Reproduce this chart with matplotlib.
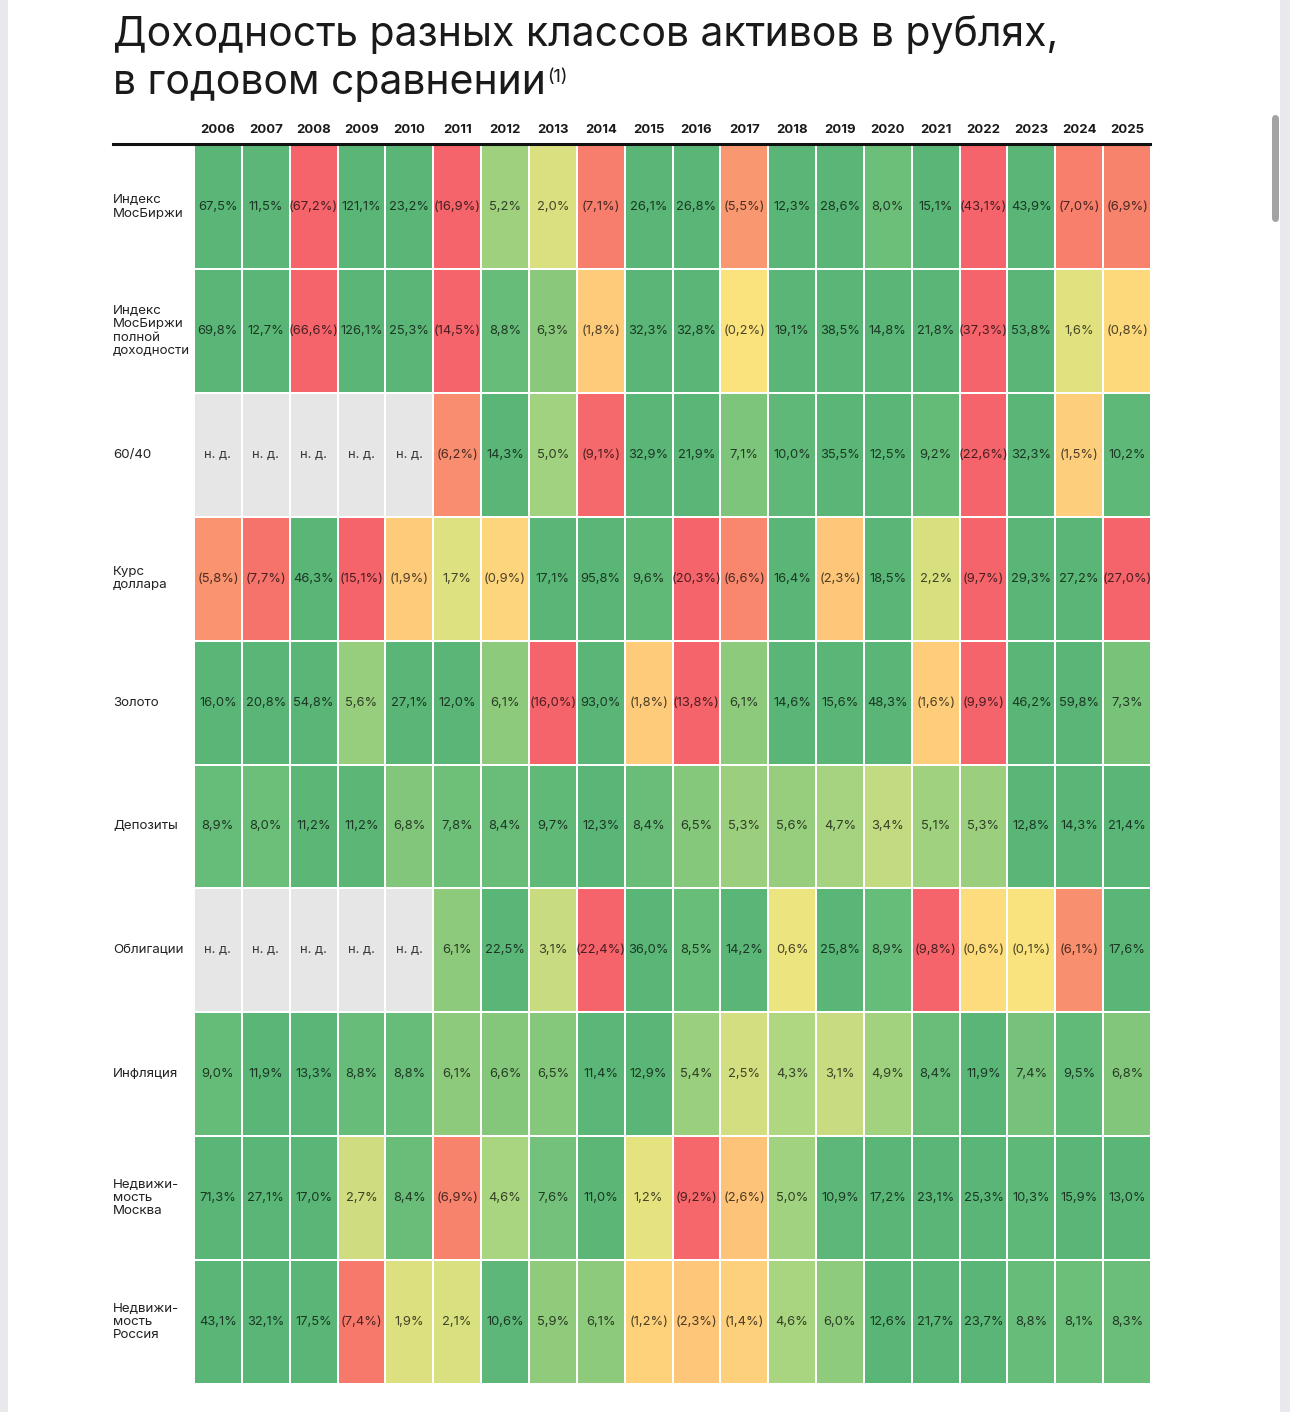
import numpy as np
import matplotlib
matplotlib.use('Agg')
import matplotlib.pyplot as plt
import matplotlib.colors as mcolors
import matplotlib.transforms as mtransforms
from matplotlib.lines import Line2D
from matplotlib.patches import Rectangle, FancyBboxPatch

plt.rcParams['font.family'] = ['Inter', 'DejaVu Sans']

years = [str(y) for y in range(2006, 2026)]

row_labels = ['Индекс\nМосБиржи',
              'Индекс\nМосБиржи\nполной\nдоходности',
              '60/40',
              'Курс\nдоллара',
              'Золото',
              'Депозиты',
              'Облигации',
              'Инфляция',
              'Недвижи-\nмость\nМосква',
              'Недвижи-\nмость\nРоссия']

moex = [67.5, 11.5, -67.2, 121.1, 23.2, -16.9, 5.2, 2.0, -7.1, 26.1,
        26.8, -5.5, 12.3, 28.6, 8.0, 15.1, -43.1, 43.9, -7.0, -6.9]
moex_tr = [69.8, 12.7, -66.6, 126.1, 25.3, -14.5, 8.8, 6.3, -1.8, 32.3,
           32.8, -0.2, 19.1, 38.5, 14.8, 21.8, -37.3, 53.8, 1.6, -0.8]
mix_60_40 = [None, None, None, None, None, -6.2, 14.3, 5.0, -9.1, 32.9,
             21.9, 7.1, 10.0, 35.5, 12.5, 9.2, -22.6, 32.3, -1.5, 10.2]
usd = [-5.8, -7.7, 46.3, -15.1, -1.9, 1.7, -0.9, 17.1, 95.8, 9.6,
       -20.3, -6.6, 16.4, -2.3, 18.5, 2.2, -9.7, 29.3, 27.2, -27.0]
gold = [16.0, 20.8, 54.8, 5.6, 27.1, 12.0, 6.1, -16.0, 93.0, -1.8,
        -13.8, 6.1, 14.6, 15.6, 48.3, -1.6, -9.9, 46.2, 59.8, 7.3]
deposits = [8.9, 8.0, 11.2, 11.2, 6.8, 7.8, 8.4, 9.7, 12.3, 8.4,
            6.5, 5.3, 5.6, 4.7, 3.4, 5.1, 5.3, 12.8, 14.3, 21.4]
bonds = [None, None, None, None, None, 6.1, 22.5, 3.1, -22.4, 36.0,
         8.5, 14.2, 0.6, 25.8, 8.9, -9.8, -0.6, -0.1, -6.1, 17.6]
inflation = [9.0, 11.9, 13.3, 8.8, 8.8, 6.1, 6.6, 6.5, 11.4, 12.9,
             5.4, 2.5, 4.3, 3.1, 4.9, 8.4, 11.9, 7.4, 9.5, 6.8]
realty_msk = [71.3, 27.1, 17.0, 2.7, 8.4, -6.9, 4.6, 7.6, 11.0, 1.2,
              -9.2, -2.6, 5.0, 10.9, 17.2, 23.1, 25.3, 10.3, 15.9, 13.0]
realty_rus = [43.1, 32.1, 17.5, -7.4, 1.9, 2.1, 10.6, 5.9, 6.1, -1.2,
              -2.3, -1.4, 4.6, 6.0, 12.6, 21.7, 23.7, 8.8, 8.1, 8.3]

rows = [moex, moex_tr, mix_60_40, usd, gold, deposits, bonds, inflation,
        realty_msk, realty_rus]
vals = np.array([[np.nan if v is None else v for v in r] for r in rows])
data = np.ma.masked_invalid(vals)

# цветовая шкала: красный -> оранжевый -> жёлтый -> зелёный
VMIN, VMAX = -10, 12
anchors = [(-10, '#f5636b'), (-8, '#f66e6a'), (-6.5, '#f88a6e'),
           (-2.5, '#fdc478'), (-1, '#fdd47c'), (-0.3, '#fde27d'),
           (0.5, '#ece47f'), (1.5, '#e2e27f'), (3, '#cadc80'),
           (4.5, '#abd580'), (6, '#8fcb7c'), (8, '#6cbf79'),
           (10, '#5fb878'), (12, '#5ab677')]
cmap = mcolors.LinearSegmentedColormap.from_list(
    'ret', [((v - VMIN) / (VMAX - VMIN), c) for v, c in anchors])
cmap.set_bad('#e6e6e6')
norm = mcolors.Normalize(vmin=VMIN, vmax=VMAX, clip=True)

W, H = 1290, 1412
fig = plt.figure(figsize=(W / 100, H / 100), dpi=100)
fig.patch.set_facecolor('white')

# сетка
gx0, gx1, gy0, gy1 = 194, 1151, 145, 1384
ax = fig.add_axes([gx0 / W, 1 - gy1 / H, (gx1 - gx0) / W, (gy1 - gy0) / H])
nrow, ncol = vals.shape
ax.pcolormesh(np.arange(ncol + 1), np.arange(nrow + 1), data, cmap=cmap,
              norm=norm, edgecolors='white', linewidth=1.3)
ax.set_xlim(0, ncol)
ax.set_ylim(nrow, 0)
for s in ax.spines.values():
    s.set_visible(False)
ax.set_xticks([])
ax.set_yticks([])

for i in range(nrow):
    for j in range(ncol):
        v = vals[i, j]
        if np.isnan(v):
            txt, col = 'н. д.', '#3a3a3a'
        else:
            txt = f'{abs(v):.1f}%'.replace('.', ',')
            if v < 0:
                txt = f'({txt})'
            rgb = np.array(mcolors.to_rgb(cmap(norm(v))))
            col = rgb * 0.3
        ax.text(j + 0.5, i + 0.5, txt, ha='center', va='center',
                fontsize=9.3, color=col)

# годы
ytrans = mtransforms.blended_transform_factory(ax.transData, fig.transFigure)
for j, y in enumerate(years):
    ax.text(j + 0.5, 1 - 130 / H, y, transform=ytrans, ha='center',
            va='center', fontsize=9.5, fontweight='bold', color='#1a1a1a')

# подписи строк
trans = mtransforms.blended_transform_factory(fig.transFigure, ax.transData)
for i, lab in enumerate(row_labels):
    ax.text(113 / W, i + 0.5, lab, transform=trans, ha='left', va='center',
            fontsize=9.6, color='#222222', linespacing=1.15)

# линия под заголовками
fig.add_artist(Line2D([113 / W, 1150 / W], [1 - 144 / H] * 2,
                      color='#111111', lw=2.2))

# заголовок
fig.text(113 / W, 1 - 46 / H, 'Доходность разных классов активов в рублях,',
         fontsize=29.5, color='#1a1a1a', va='baseline', ha='left')
t2 = fig.text(113 / W, 1 - 94 / H, 'в годовом сравнении',
              fontsize=29.5, color='#1a1a1a', va='baseline', ha='left')
fig.canvas.draw()
bb = t2.get_window_extent()
fig.text(bb.x1 / W + 1 / W, 1 - 82 / H, '(1)', fontsize=13,
         color='#1a1a1a', va='baseline', ha='left')

# рамка окна
fig.add_artist(Rectangle((0, 0), 8 / W, 1, transform=fig.transFigure,
                         color='#e8e8ed', lw=0))
fig.add_artist(Rectangle((1280 / W, 0), 10 / W, 1, transform=fig.transFigure,
                         color='#e8e8ed', lw=0))
fig.add_artist(FancyBboxPatch((1272 / W, 1 - 222 / H), 7 / W, 107 / H,
                              boxstyle='round,pad=0,rounding_size=0.003',
                              transform=fig.transFigure, color='#a3a3a3',
                              lw=0))

fig.savefig('out.png', dpi=100)
